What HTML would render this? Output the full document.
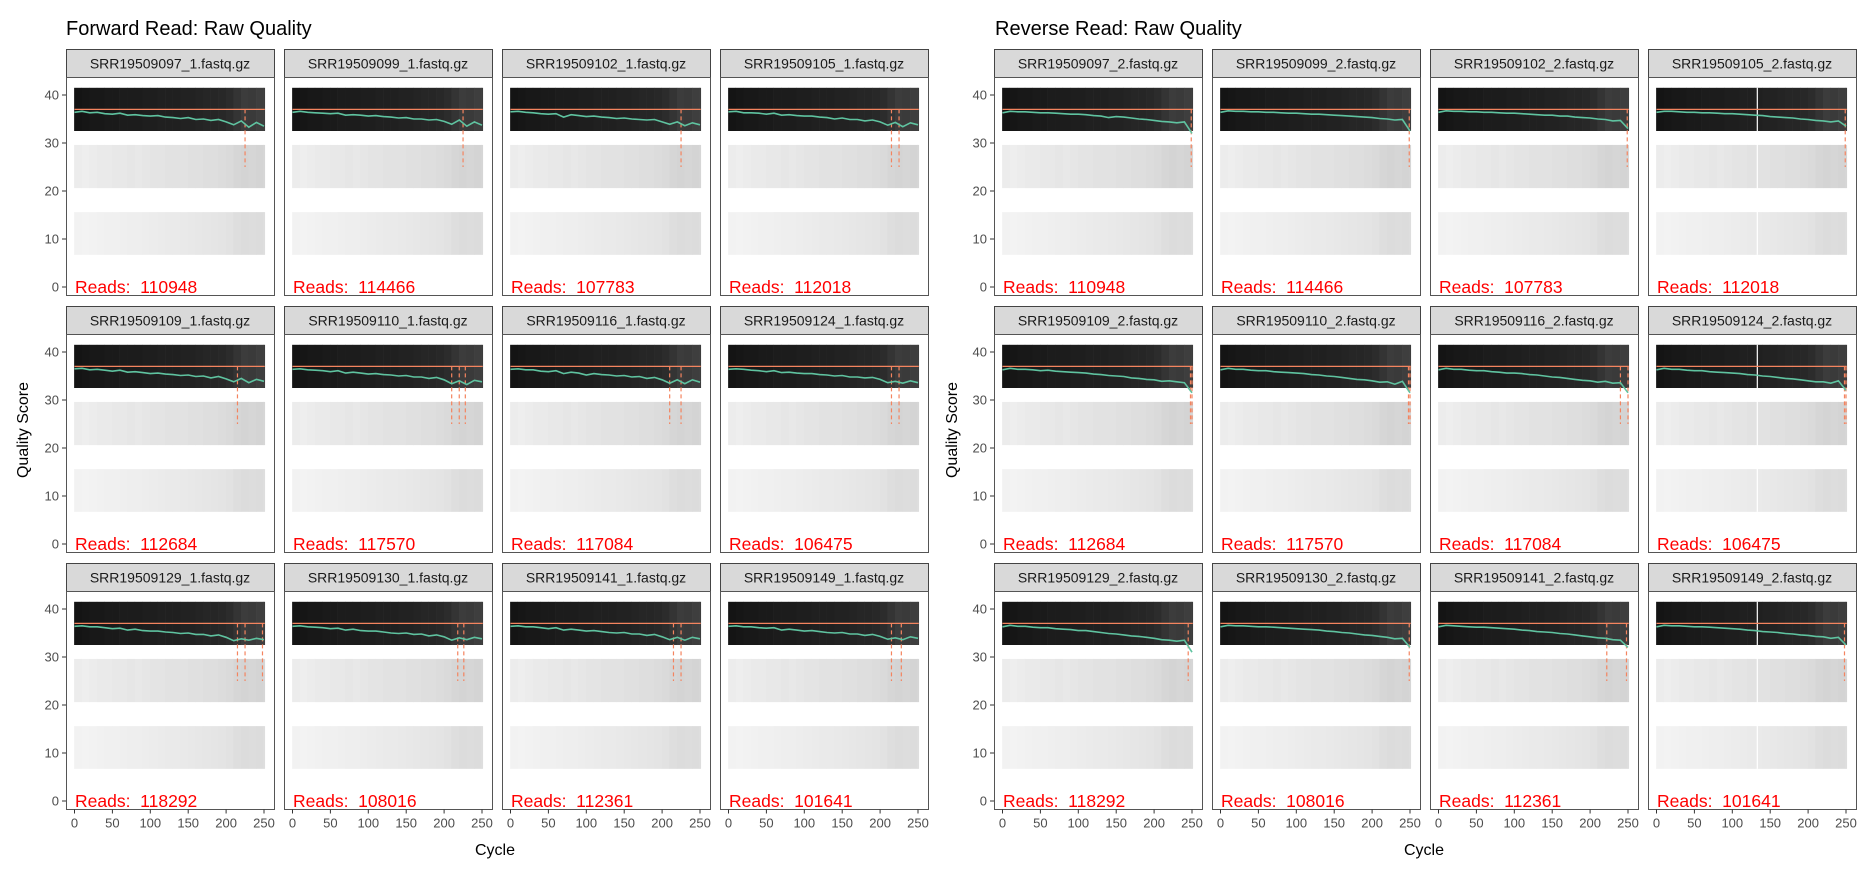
<!DOCTYPE html>
<html><head><meta charset="utf-8">
<style>
html,body{margin:0;padding:0;background:#fff;}
svg{display:block;font-family:"Liberation Sans",sans-serif;}
</style></head>
<body>
<svg id="chart" width="1875" height="875" viewBox="0 0 1875 875" xmlns="http://www.w3.org/2000/svg">
<text x="66" y="35" font-size="20" fill="#000">Forward Read: Raw Quality</text>
<text x="995" y="35" font-size="20" fill="#000">Reverse Read: Raw Quality</text>
<text transform="translate(28,430) rotate(-90)" text-anchor="middle" font-size="16">Quality Score</text>
<text transform="translate(957,430) rotate(-90)" text-anchor="middle" font-size="16">Quality Score</text>
<text x="495" y="855" text-anchor="middle" font-size="16">Cycle</text>
<text x="1424" y="855" text-anchor="middle" font-size="16">Cycle</text>
<g id="plots"></g>
</svg>
<script>
// ---- data ----
const forwardSamples = ["SRR19509097_1.fastq.gz","SRR19509099_1.fastq.gz","SRR19509102_1.fastq.gz","SRR19509105_1.fastq.gz","SRR19509109_1.fastq.gz","SRR19509110_1.fastq.gz","SRR19509116_1.fastq.gz","SRR19509124_1.fastq.gz","SRR19509129_1.fastq.gz","SRR19509130_1.fastq.gz","SRR19509141_1.fastq.gz","SRR19509149_1.fastq.gz"];
const reverseSamples = ["SRR19509097_2.fastq.gz","SRR19509099_2.fastq.gz","SRR19509102_2.fastq.gz","SRR19509105_2.fastq.gz","SRR19509109_2.fastq.gz","SRR19509110_2.fastq.gz","SRR19509116_2.fastq.gz","SRR19509124_2.fastq.gz","SRR19509129_2.fastq.gz","SRR19509130_2.fastq.gz","SRR19509141_2.fastq.gz","SRR19509149_2.fastq.gz"];
const readCounts = [110948,114466,107783,112018,112684,117570,117084,106475,118292,108016,112361,101641];
const cycles = [0,10,20,30,40,50,60,70,80,90,100,110,120,130,140,150,160,170,180,190,200,210,220,230,240,250];
const forwardMean = [
 [36.4,36.6,36.3,36.4,36.1,36.0,36.2,35.8,35.9,35.7,35.6,35.7,35.4,35.3,35.1,35.3,34.9,35.0,34.7,34.9,34.4,33.8,34.6,33.3,34.3,33.5],
 [36.4,36.6,36.4,36.3,36.2,36.1,36.2,35.8,35.9,35.8,35.6,35.7,35.5,35.4,35.2,35.3,35.0,35.0,34.8,34.9,34.5,33.9,34.8,33.5,34.4,33.7],
 [36.5,36.6,36.4,36.3,36.1,36.0,36.1,35.4,35.9,35.7,35.5,35.6,35.4,35.3,35.1,35.2,35.0,34.9,34.8,34.9,34.4,33.9,34.4,33.6,34.2,33.8],
 [36.5,36.6,36.3,36.3,36.2,36.0,36.2,35.8,35.9,35.7,35.6,35.6,35.4,35.3,35.0,35.2,34.9,34.9,34.6,34.8,34.4,33.7,34.3,33.4,34.2,33.8],
 [36.5,36.6,36.3,36.4,36.2,36.0,36.2,35.8,35.9,35.7,35.5,35.6,35.4,35.3,35.1,35.2,34.9,35.0,34.6,34.9,34.4,33.8,34.5,33.6,34.3,33.9],
 [36.4,36.5,36.3,36.2,36.1,35.9,36.1,35.6,35.8,35.6,35.4,35.5,35.3,35.2,35.0,35.1,34.8,34.8,34.5,34.7,34.2,33.4,34.0,33.2,34.1,33.8],
 [36.4,36.5,36.3,36.3,36.0,35.9,36.1,35.5,35.8,35.6,35.2,35.5,35.3,35.2,35.0,35.1,34.8,34.9,34.5,34.7,34.2,33.5,34.2,33.4,34.2,33.7],
 [36.4,36.5,36.4,36.2,36.1,35.9,36.1,35.7,35.8,35.6,35.5,35.5,35.3,35.2,35.0,35.1,34.8,34.8,34.6,34.7,34.3,33.6,33.9,33.5,34.0,33.6],
 [36.4,36.5,36.3,36.3,36.1,35.9,36.0,35.6,35.8,35.5,35.4,35.4,35.2,35.1,34.9,35.0,34.7,34.7,34.4,34.6,34.1,33.4,33.8,33.5,33.9,33.6],
 [36.4,36.5,36.3,36.2,36.1,35.9,36.0,35.6,35.8,35.5,35.4,35.4,35.2,35.0,34.9,35.0,34.7,34.8,34.4,34.6,34.2,33.5,34.0,33.6,34.1,33.8],
 [36.4,36.5,36.3,36.3,36.1,35.9,36.1,35.6,35.8,35.6,35.4,35.5,35.3,35.1,35.0,35.1,34.8,34.8,34.5,34.7,34.2,33.6,34.1,33.5,34.1,33.8],
 [36.4,36.5,36.3,36.3,36.1,36.0,36.1,35.6,35.8,35.6,35.4,35.5,35.3,35.1,35.0,35.1,34.8,34.8,34.5,34.7,34.3,33.7,34.0,33.6,34.2,33.9]
];
const reverseMean = [
 [36.3,36.6,36.5,36.5,36.4,36.3,36.3,36.2,36.1,36.0,36.0,35.9,35.7,35.6,35.3,35.5,35.4,35.2,35.0,34.9,34.7,34.5,34.4,34.2,34.4,32.0],
 [36.4,36.7,36.6,36.6,36.5,36.5,36.4,36.4,36.3,36.2,36.2,36.1,36.0,36.0,35.9,35.8,35.7,35.6,35.5,35.4,35.3,35.1,35.0,34.8,34.9,32.5],
 [36.4,36.7,36.6,36.6,36.5,36.5,36.4,36.4,36.3,36.2,36.2,36.1,36.0,35.9,35.8,35.8,35.6,35.6,35.4,35.3,35.2,35.0,34.9,34.6,34.7,33.0],
 [36.4,36.6,36.6,36.5,36.4,36.4,36.3,36.3,36.2,36.1,36.1,36.0,35.9,35.8,35.7,35.5,35.4,35.3,35.2,35.0,34.9,34.7,34.6,34.4,34.6,33.5],
 [36.3,36.6,36.4,36.4,36.3,36.1,36.2,36.0,35.9,35.8,35.7,35.6,35.4,35.3,35.1,35.0,34.9,34.6,34.5,34.3,34.2,33.9,34.0,33.8,33.6,31.5],
 [36.3,36.6,36.4,36.4,36.2,36.1,36.1,35.9,35.8,35.7,35.6,35.5,35.3,35.2,35.0,34.9,34.7,34.5,34.3,34.2,34.0,33.7,33.8,33.3,33.9,31.5],
 [36.3,36.6,36.4,36.4,36.2,36.1,36.1,35.9,35.8,35.6,35.6,35.5,35.3,35.2,35.0,34.8,34.7,34.5,34.3,34.1,34.0,33.7,33.9,33.5,33.6,31.5],
 [36.3,36.6,36.4,36.4,36.2,36.1,36.1,35.9,35.8,35.7,35.6,35.5,35.3,35.2,35.0,34.9,34.7,34.5,34.4,34.2,34.0,33.8,33.8,33.5,34.0,32.0],
 [36.3,36.6,36.4,36.4,36.2,36.1,36.1,35.9,35.8,35.7,35.5,35.5,35.3,35.1,34.9,34.8,34.6,34.4,34.3,34.1,33.9,33.6,33.5,33.3,33.5,31.0],
 [36.3,36.6,36.5,36.5,36.4,36.3,36.3,36.2,36.1,36.0,35.9,35.8,35.7,35.6,35.4,35.3,35.1,35.0,34.8,34.6,34.5,34.3,34.1,33.8,33.9,32.0],
 [36.3,36.6,36.5,36.4,36.3,36.2,36.2,36.1,36.0,35.9,35.8,35.6,35.5,35.3,35.2,35.1,34.9,34.8,34.6,34.4,34.2,34.0,33.9,33.6,33.5,32.0],
 [36.3,36.6,36.5,36.5,36.4,36.3,36.3,36.2,36.1,36.0,35.9,35.8,35.6,35.5,35.3,35.2,35.1,34.9,34.8,34.6,34.5,34.3,34.2,33.9,34.1,32.5]
];
const forwardDrops = [[225],[225],[225],[215,225],[215],[210,220,228],[210,225],[215,225],[215,225,248],[218,226],[215,225],[215,228]];
const reverseDrops = [[249],[249],[249],[249],[248,250],[248,250],[240,250],[248,250],[245],[249],[222,248],[248]];
const reverseGapCycle = [null,null,null,133,null,null,null,133,null,null,null,133];
const yTicks = [0,10,20,30,40];
const xTicks = [0,50,100,150,200,250];
// gray level (0-255) per 10-cycle column for each of the three quality bands
const bandHigh = [20,22,24,24,26,26,28,28,28,30,30,32,32,32,34,34,36,38,38,40,44,52,60,58,62,60];
const bandMid  = [236,238,236,234,234,232,232,230,232,230,228,228,226,226,226,224,224,222,222,220,218,214,212,214,212,214];
const bandLow  = [242,243,242,241,240,240,239,238,238,237,236,235,234,234,233,232,231,230,229,228,226,222,220,221,220,222];
const bandRanges = [[32.5,41.5],[20.6,29.6],[6.7,15.6]];
const medianQ = 37;
const dropLow = 25;

// ---- layout ----
const NS = "http://www.w3.org/2000/svg";
const root = document.getElementById("plots");
const colX0 = [66, 994];
const pitchX = 218, panelW = 208;
const rowY0 = [49, 306, 563];
const stripH = 28, panelBottomOff = 246;
function mk(tag, attrs, parent){
  const e = document.createElementNS(NS, tag);
  for (const k in attrs) e.setAttribute(k, attrs[k]);
  (parent||root).appendChild(e);
  return e;
}
function xScale(px, c){ return px + 8.5 + c * 0.758; }
function yScale(ry, v){ return ry + stripH + 18 + (40 - v) * 4.8; }

[forwardSamples, reverseSamples].forEach((samples, side) => {
  const means = side === 0 ? forwardMean : reverseMean;
  const drops = side === 0 ? forwardDrops : reverseDrops;
  samples.forEach((name, i) => {
    const col = i % 4, row = Math.floor(i / 4);
    const px = colX0[side] + col * pitchX;
    const ry = rowY0[row];
    const g = mk("g", {});
    
    
    const st = mk("rect", {x: px+0.5, y: ry+0.5, width: panelW, height: stripH, fill: "#d9d9d9", stroke: "#444", "stroke-width": 1}, g);
    
    
    const stt = mk("text", {x: px + panelW/2, y: ry + 19.5, "text-anchor": "middle", "font-size": 14, fill: "#1a1a1a"}, g);
    stt.textContent = name;
    
    
    [bandHigh, bandMid, bandLow].forEach((band, b) => {
      const yT = yScale(ry, bandRanges[b][1]), yB = yScale(ry, bandRanges[b][0]);
      band.forEach((gv, k) => {
        const x1 = xScale(px, cycles[k] - 0.5);
        const x2 = xScale(px, Math.min(cycles[k] + 9.5, 251));
        if (x2 <= x1) return;
        const r = mk("rect", {x: x1, y: yT, width: x2 - x1 + 0.3, height: yB - yT, fill: `rgb(${gv},${gv},${gv})`}, g);
        
        
      });
    });
    if (side === 1 && reverseGapCycle[i] !== null) {
      const gx = xScale(px, reverseGapCycle[i]);
      const gl = mk("line", {x1: gx, x2: gx, y1: yScale(ry, 41.5), y2: yScale(ry, 6.7), stroke: "#fff", "stroke-width": 1.2}, g);
      
      
    }
    const ml = mk("line", {x1: xScale(px, 0), x2: xScale(px, 251), y1: yScale(ry, medianQ), y2: yScale(ry, medianQ), stroke: "#f4845f", "stroke-width": 1.2}, g);
    
    
    drops[i].forEach(c => {
      const dl = mk("line", {x1: xScale(px, c), x2: xScale(px, c), y1: yScale(ry, medianQ), y2: yScale(ry, dropLow), stroke: "#f4845f", "stroke-width": 1.2, "stroke-dasharray": "4,3"}, g);
      
      
    });
    const pts = means[i].map((v, k) => xScale(px, cycles[k]).toFixed(1) + "," + yScale(ry, v).toFixed(1)).join(" ");
    const pl = mk("polyline", {points: pts, fill: "none", stroke: "#5fc3a0", "stroke-width": 1.6}, g);
    
    
    const rt = mk("text", {x: px + 9, y: ry + panelBottomOff - 2, "font-size": 17.5, fill: "#ff0000"}, g);
    rt.textContent = "Reads:\u00a0 " + readCounts[i];
    
    
    const pb = mk("rect", {x: px+0.5, y: ry + stripH + 0.5, width: panelW, height: panelBottomOff - stripH, fill: "none", stroke: "#555", "stroke-width": 1}, g);
    
    
    if (col === 0) {
      yTicks.forEach(t => {
        const yy = yScale(ry, t);
        const tk = mk("line", {x1: px - 4, x2: px, y1: yy, y2: yy, stroke: "#333", "stroke-width": 1}, g);
        
        
        const tl = mk("text", {x: px - 7, y: yy + 4.5, "text-anchor": "end", "font-size": 13, fill: "#4d4d4d"}, g);
        tl.textContent = t;
        
        
      });
    }
    if (row === 2) {
      xTicks.forEach(t => {
        const xx = xScale(px, t);
        const by = ry + panelBottomOff + 0.5;
        const tk = mk("line", {x1: xx, x2: xx, y1: by, y2: by + 4, stroke: "#333", "stroke-width": 1}, g);
        
        
        const tl = mk("text", {x: xx, y: by + 18, "text-anchor": "middle", "font-size": 13, fill: "#4d4d4d"}, g);
        tl.textContent = t;
        
        
      });
    }
  });
});
</script>
</body></html>
